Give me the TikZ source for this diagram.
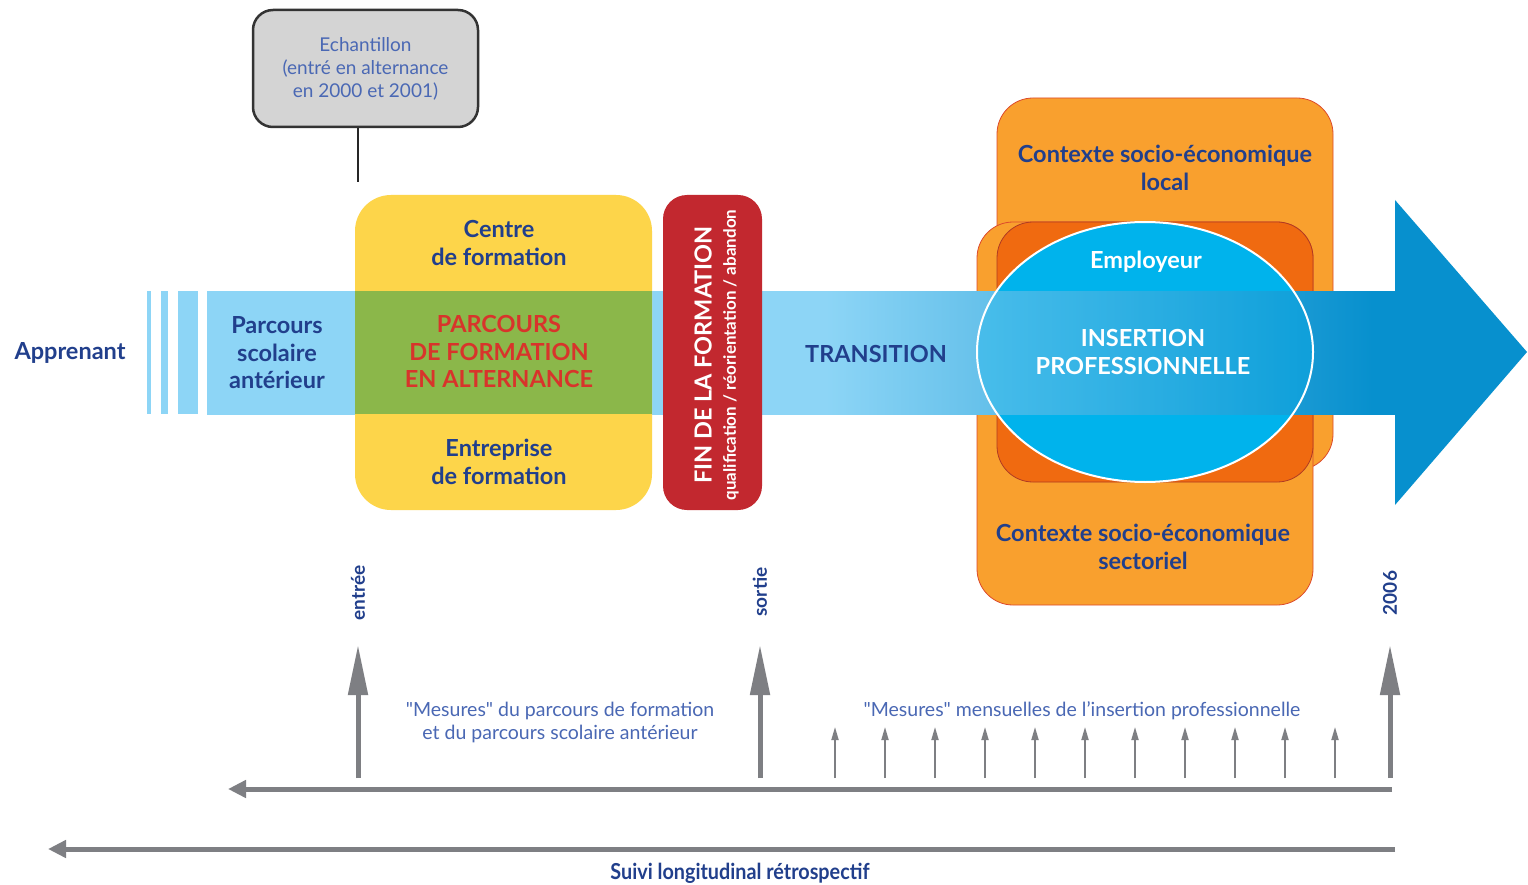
\documentclass[tikz,border=0pt]{standalone}
\usepackage{fontspec}
\setmainfont{Lato}
\newfontfamily\condfont[FakeStretch=0.9]{Lato}
\usetikzlibrary{arrows.meta}
\definecolor{navy}{HTML}{213F8C}
\definecolor{redtxt}{HTML}{D8342B}
\definecolor{softblue}{HTML}{4A68B4}
\definecolor{yellowbox}{HTML}{FDD54A}
\definecolor{greenov}{HTML}{8BB74A}
\definecolor{redbox}{HTML}{C2282F}
\definecolor{bandlight}{HTML}{8DD5F6}
\definecolor{arrowblue}{HTML}{0790CE}
\definecolor{orangel}{HTML}{F9A02E}
\definecolor{oranged}{HTML}{F06A10}
\definecolor{orangeborder}{HTML}{DC4A2C}
\definecolor{cyanell}{HTML}{00B3EC}
\definecolor{grayarrow}{HTML}{7E7F83}
\definecolor{grayfill}{HTML}{D4D4D4}
\pgfdeclarehorizontalshading{bandshade}{100bp}{color(0bp)=(bandlight); color(25bp)=(bandlight); color(51bp)=(bandlight); color(74bp)=(arrowblue); color(100bp)=(arrowblue)}
\begin{document}
\begin{tikzpicture}[x=1pt,y=-1pt,
  lbl/.style={font=\bfseries\fontsize{23.5}{27.5}\selectfont, text=navy, align=center, inner sep=0pt},
  rotlbl/.style={font=\bfseries\fontsize{19}{20}\selectfont, text=navy, rotate=90, inner sep=0pt},
  softtxt/.style={font=\fontsize{19.5}{23}\selectfont, text=softblue, align=center, inner sep=0pt},
  graybox/.style={draw=black!80, line width=2.5pt, fill=grayfill, rounded corners=20pt, minimum width=225pt, minimum height=117pt, align=center},
  orangebox/.style={fill=orangel, draw=orangeborder, line width=0.8pt, rounded corners=36pt},
  bigarrow/.style={draw=grayarrow, line width=5pt, -{Triangle[length=50pt,width=19pt]}},
  smallarrow/.style={draw=grayarrow, line width=1.8pt, -{Triangle[length=13pt,width=7pt]}},
  harrow/.style={draw=grayarrow, line width=5pt, -{Triangle[length=18pt,width=17pt]}}
]
\useasboundingbox (0,0) rectangle (1528,885);
\fill[white] (0,0) rectangle (1528,885);

% orange context boxes
\path[orangebox] (997,98) rectangle (1333,470);
\path[orangebox] (977,222) rectangle (1313,605);
\path[fill=oranged, draw=orangeborder!80!black, line width=0.8pt, rounded corners=36pt] (997,222) rectangle (1313,482);
\fill[cyanell] (1145,352) ellipse [x radius=168pt, y radius=130pt];

% main band
\fill[bandlight] (147,291) rectangle (151,414);
\fill[bandlight] (161,291) rectangle (168,414);
\fill[bandlight] (178,291) rectangle (198,414);
\shade[shading=bandshade] (207,291) rectangle (1396,414);
\fill[arrowblue] (1395,200) -- (1527,352) -- (1395,505) -- cycle;
\begin{scope}
  \clip (207,291) rectangle (1396,414);
  \fill[cyanell, fill opacity=0.3] (1145,352) ellipse [x radius=168pt, y radius=130pt];
\end{scope}
\draw[white, line width=2pt] (1145,352) ellipse [x radius=168pt, y radius=130pt];

% yellow formation box
\fill[yellowbox, rounded corners=36pt] (355,195) rectangle (652,510);
\fill[greenov] (355,291) rectangle (652,414);

% red end box
\fill[redbox, rounded corners=24pt] (663,195) rectangle (762,510);

% gray sample box
\node[graybox, softtxt, font=\fontsize{19}{23}\selectfont] (ech) at (365.5,68.5) {Echantillon\\(entré en alternance\\en 2000 et 2001)};
\coordinate (tick) at (358,182);
\draw[black!85, line width=2.5pt] (ech.south -| tick) -- (tick);

% labels
\node[lbl] (appr) at (70,353) {Apprenant};
\node[lbl] (pscol) at (277,353) {Parcours\\scolaire\\antérieur};
\node[lbl] (centre) at (499,243) {Centre\\de formation};
\node[lbl, text=redtxt] (palt) at (499,352) {PARCOURS\\DE FORMATION\\EN ALTERNANCE};
\node[lbl] (entrep) at (499,462) {Entreprise\\de formation};
\node[font=\bfseries\fontsize{23.5}{24}\selectfont, text=white, rotate=90, inner sep=0pt] (fin) at (703,355) {FIN DE LA FORMATION};
\node[font=\bfseries\fontsize{17}{18}\selectfont, text=white, rotate=90, inner sep=0pt] (qual) at (731,355) {qualification / réorientation / abandon};
\node[lbl] (trans) at (876,354) {TRANSITION};
\node[lbl] (ctxl) at (1165,168) {Contexte socio-économique\\local};
\node[lbl, text=white] (empl) at (1146,262) {Employeur};
\node[lbl, text=white] (ins) at (1143,352) {INSERTION\\PROFESSIONNELLE};
\node[lbl] (ctxs) at (1143,547) {Contexte socio-économique\\sectoriel};

% time markers
\node[rotlbl] (lentree) at (358,593) {entrée};
\node[rotlbl] (lsortie) at (760,592) {sortie};
\node[rotlbl] (l2006) at (1390,593) {2006};

\coordinate (a1b) at (358,778); \coordinate (a1t) at (358,645);
\coordinate (a2b) at (760,778); \coordinate (a2t) at (760,645);
\coordinate (a3b) at (1390,778); \coordinate (a3t) at (1390,645);
\draw[bigarrow] (a1b) -- (a1t);
\draw[bigarrow] (a2b) -- (a2t);
\draw[bigarrow] (a3b) -- (a3t);

\foreach \i/\x in {1/835,2/885,3/935,4/985,5/1035,6/1085,7/1135,8/1185,9/1235,10/1285,11/1335}{
  \coordinate (m\i b) at (\x,778);
  \coordinate (m\i t) at (\x,727);
  \draw[smallarrow] (m\i b) -- (m\i t);
}

\node[softtxt] (mes1) at (560,722) {\textquotedbl Mesures\textquotedbl{} du parcours de formation\\et du parcours scolaire antérieur};
\node[softtxt] (mes2) at (1082,711) {\textquotedbl Mesures\textquotedbl{} mensuelles de l'insertion professionnelle};

\coordinate (h1r) at (1392,789); \coordinate (h1l) at (228,789);
\coordinate (h2r) at (1395,849); \coordinate (h2l) at (48,849);
\draw[harrow] (h1r) -- (h1l);
\draw[harrow] (h2r) -- (h2l);

\node[font=\condfont\bfseries\fontsize{22}{24}\selectfont, text=navy, inner sep=0pt] (suivi) at (740,873) {Suivi longitudinal rétrospectif};
\end{tikzpicture}
\end{document}
